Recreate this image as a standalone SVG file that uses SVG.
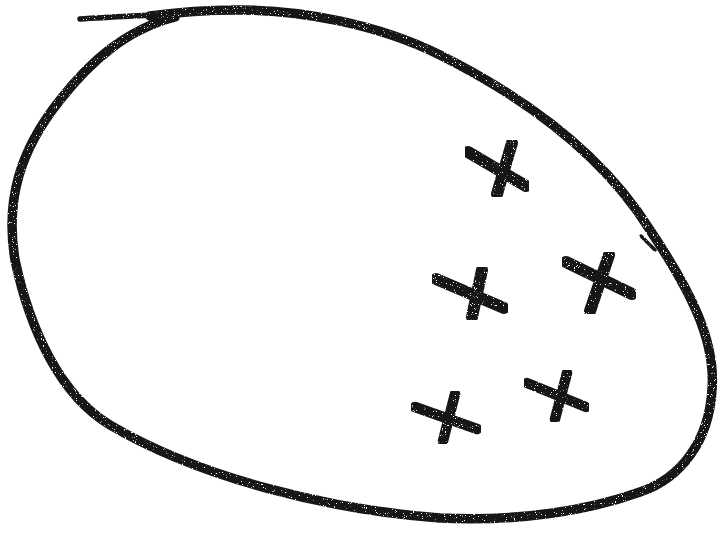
<svg xmlns="http://www.w3.org/2000/svg" width="719" height="535" viewBox="0 0 719 535">
<style>
.ink{fill:none;stroke:#161414;stroke-linecap:round;stroke-linejoin:round}
.loop{stroke-width:9.5}
.x{stroke-width:12}
.xs{stroke-width:10.5}
</style>
<defs>
<filter id="grain" x="-5%" y="-5%" width="110%" height="110%">
<feTurbulence type="fractalNoise" baseFrequency="0.9" numOctaves="2" seed="4" result="n"/>
<feColorMatrix in="n" type="matrix" values="0 0 0 0 0 0 0 0 0 0 0 0 0 0 0 14 0 0 0 -3.6" result="m"/>
<feComposite in="SourceGraphic" in2="m" operator="in"/>
</filter>
</defs>
<rect width="719" height="535" fill="#ffffff"/>
<g id="shape" filter="url(#grain)">
<path class="ink" stroke-width="5.5" d="M80,19 C110,17 135,16 170,14"/>
<path class="ink loop" d="M150,16 C180,12 205,10 235,10 C300,9 380,25 440,55 C520,95 600,150 650,230 C690,290 716,340 712,390 C709,440 682,478 640,492 C590,510 520,522 440,518 C330,510 200,478 110,425 C60,395 30,330 15,260 C5,200 20,150 60,100 C90,62 125,30 175,17"/>
<path class="ink" stroke-width="3.5" d="M641,236 L655,250"/>
</g>
<g id="cross1" filter="url(#grain)">
<path class="ink x" d="M468,152 L526,186 M512,143 L497,194"/>
</g>
<g id="cross2" filter="url(#grain)">
<path class="ink x" d="M436,279 L504,308 M482,270 L472,317"/>
</g>
<g id="cross3" filter="url(#grain)">
<path class="ink x" d="M566,262 L632,294 M609,255 L590,311"/>
</g>
<g id="cross4" filter="url(#grain)">
<path class="ink xs" d="M527,383 L586,407 M567,373 L555,419"/>
</g>
<g id="cross5" filter="url(#grain)">
<path class="ink xs" d="M415,407 L477,429 M455,394 L443,441"/>
</g>
</svg>
